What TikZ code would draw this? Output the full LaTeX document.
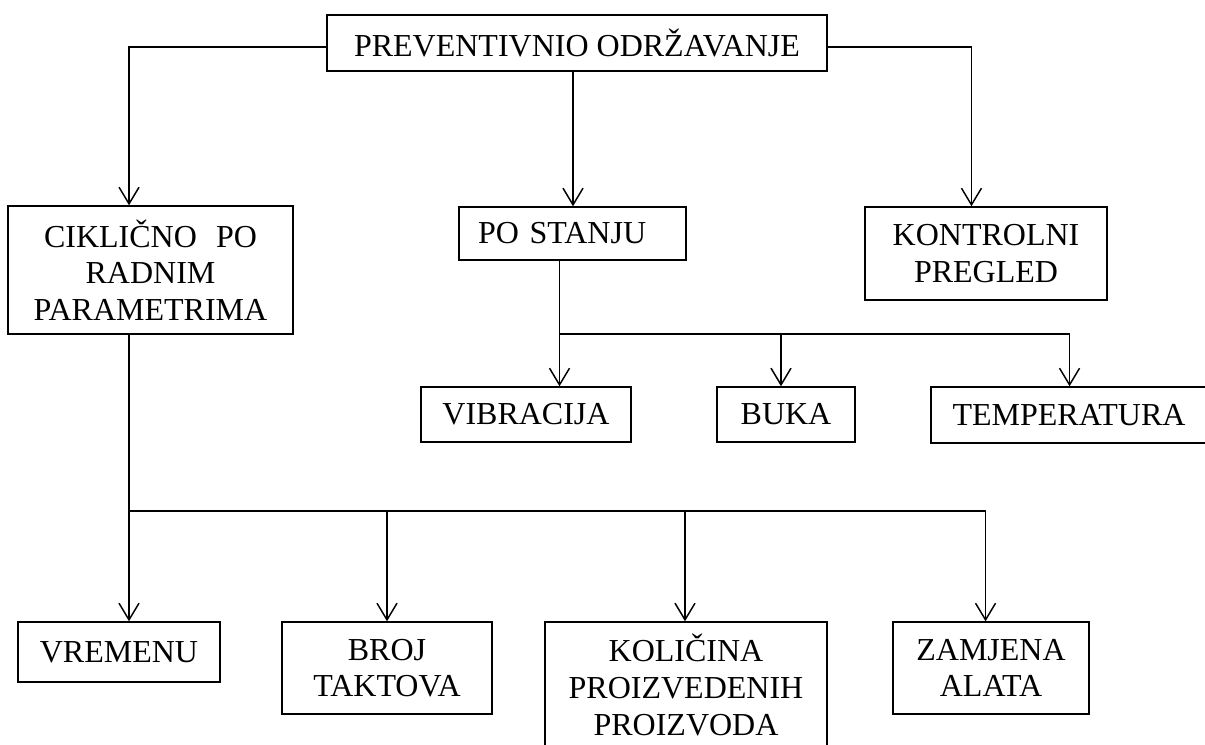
\documentclass[tikz,border=0pt]{standalone}
\usepackage{fontspec}
\setmainfont{Liberation Serif}
\usetikzlibrary{arrows.meta}
\tikzset{
  box/.style={draw, line width=1.1pt, inner sep=0pt, align=center,
    font=\fontsize{24}{27.5}\selectfont},
  arr/.style={line width=1.1pt, -{Straight Barb[length=12.5pt,width=15pt,line width=1.1pt]}},
  ln/.style={line width=1.1pt}
}
\begin{document}
\begin{tikzpicture}[x=0.75pt,y=-0.75pt]
\useasboundingbox (0,0) rectangle (1205,744);
\clip (0,0) rectangle (1205,744);
\fill[white] (0,0) rectangle (1205,744);
% boxes (px: width*0.75 = pt)
\node[box, minimum width=375pt, minimum height=42pt] (top) at (577,43) {PREVENTIVNIO ODRŽAVANJE};
\node[box, minimum width=213.75pt, minimum height=96pt] (cik) at (150.5,270) {CIKLIČNO\hspace{0.6em}PO\\RADNIM\\PARAMETRIMA};
\node[box, minimum width=170.25pt, minimum height=39.75pt, text width=141.75pt, inner xsep=14.25pt, align=left] (stanju) at (572.5,233.5) {PO STANJU};
\node[box, minimum width=181.5pt, minimum height=69.75pt] (kontrol) at (986,253.5) {KONTROLNI\\PREGLED};
\node[box, minimum width=157.5pt, minimum height=41.25pt] (vib) at (526,414.5) {VIBRACIJA};
\node[box, minimum width=103.5pt, minimum height=41.25pt] (buka) at (786,414.5) {BUKA};
\node[box, minimum width=207pt, minimum height=42pt] (temp) at (1069,415) {TEMPERATURA};
\node[box, minimum width=151.5pt, minimum height=45pt] (vrem) at (119,652) {VREMENU};
\node[box, minimum width=157.5pt, minimum height=69pt] (broj) at (387,668) {BROJ\\TAKTOVA};
\node[box, minimum width=211.5pt, minimum height=94.5pt] (kol) at (686,685) {KOLIČINA\\PROIZVEDENIH\\PROIZVODA};
\node[box, minimum width=147pt, minimum height=69pt] (zam) at (991,668) {ZAMJENA\\ALATA};
% connectors from top
\draw[arr] ([yshift=-3pt]top.west) -| ([xshift=-16.1pt]cik.north);
\draw[arr] ([xshift=-3pt]top.south) -- ([xshift=-3pt]top.south |- stanju.north);
\draw[arr] ([yshift=-3pt]top.east) -| ([xshift=-10.9pt]kontrol.north);
% po stanju branch
\coordinate (sj) at (559.5,334);
\draw[ln] (stanju.south -| sj) -- (sj);
\draw[arr] (sj) -- (sj |- vib.north);
\draw[arr] (sj) -| ([xshift=-3.75pt]buka.north);
\draw[arr] (sj) -| ([xshift=0.4pt]temp.north);
% ciklicno branch
\coordinate (cj) at (129,511);
\draw[ln] (cik.south -| cj) -- (cj);
\draw[arr] (cj) -- (cj |- vrem.north);
\draw[arr] (cj) -| (broj.north);
\draw[arr] (cj) -| ([xshift=-0.75pt]kol.north);
\draw[arr] (cj) -| ([xshift=-4.1pt]zam.north);
\end{tikzpicture}
\end{document}
